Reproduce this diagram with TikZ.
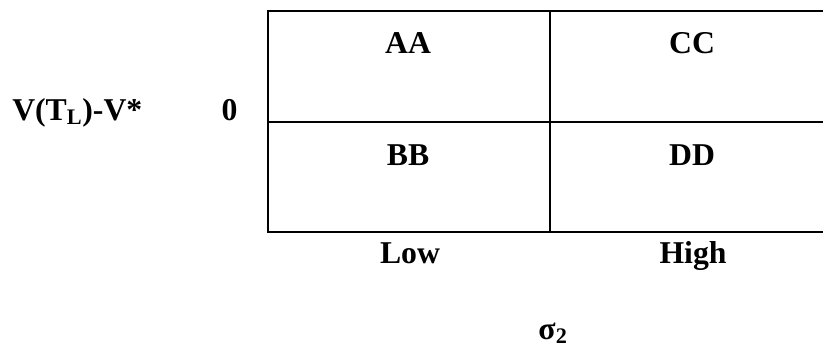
\documentclass[tikz,border=0pt]{standalone}
\usepackage{fontspec}
\setmainfont{Liberation Serif}
\begin{document}
\begin{tikzpicture}[x=0.75pt,y=-0.75pt,
  gridline/.style={line width=1.9pt,line cap=rect},
  lbl/.style={inner sep=0pt,anchor=base,font=\fontsize{23.8}{28}\selectfont\bfseries}]
\useasboundingbox (0,0) rectangle (823,351);
% grid
\coordinate (tl) at (268,11);
\coordinate (tm) at (550,11);
\coordinate (tr) at (826,11);
\coordinate (ml) at (268,122);
\coordinate (mr) at (826,122);
\coordinate (bl) at (268,232);
\coordinate (bm) at (550,232);
\coordinate (br) at (826,232);
\draw[gridline] (tr) -- (tl) -- (bl) -- (br);
\draw[gridline] (ml) -- (mr);
\draw[gridline] (tm) -- (bm);
% cell labels
\node[lbl] (aa) at (408,53) {AA};
\node[lbl] (cc) at (692,53) {CC};
\node[lbl] (bb) at (408,165) {BB};
\node[lbl] (dd) at (692,165) {DD};
% axis labels
\node[lbl] (low) at (410,263) {Low};
\node[lbl] (high) at (693,263) {High};
\node[lbl,anchor=base west] (vt) at (12,120) {V(T\textsubscript{L})-V*};
\node[lbl] (zero) at (229.5,120) {0};
\node[lbl] (sigma) at (553,339) {σ\textsubscript{2}};
\end{tikzpicture}
\end{document}
